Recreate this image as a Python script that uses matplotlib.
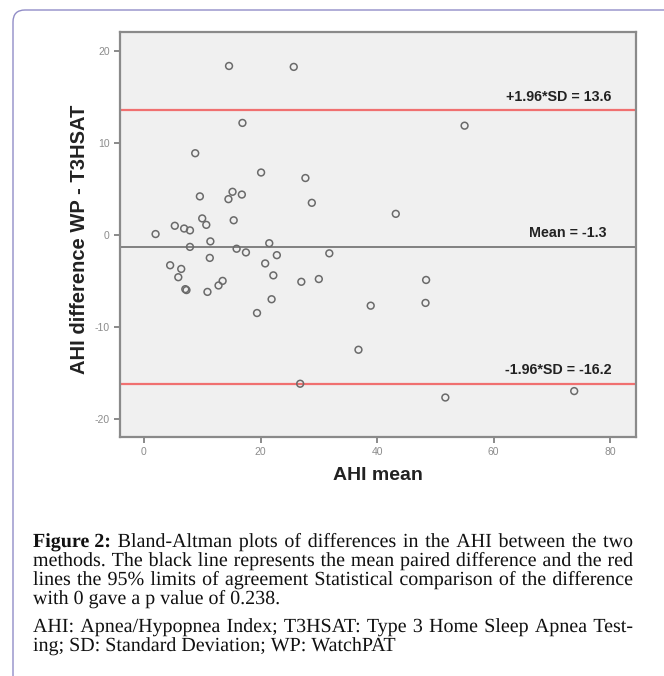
import matplotlib
matplotlib.use("Agg")
import matplotlib.pyplot as plt
from matplotlib.patches import FancyBboxPatch, PathPatch
from matplotlib.transforms import IdentityTransform
from matplotlib.textpath import TextPath, text_to_path
from matplotlib.font_manager import FontProperties

plt.rcParams["axes.unicode_minus"] = False

# Bland-Altman values
ahi_mean = [14.6, 25.7, 16.9, 8.8, 20.1, 27.7, 28.8, 9.6, 15.2, 16.8,
            14.5, 15.4, 10.0, 10.7, 2.0, 5.3, 6.9, 7.9, 11.4, 7.9,
            21.5, 15.9, 17.5, 22.8, 31.8, 4.5, 6.4, 5.9, 7.1, 7.3,
            11.3, 20.8, 22.2, 13.5, 12.8, 10.9, 27.0, 30.0, 21.9, 19.4,
            26.8, 48.4, 48.3, 38.9, 36.8, 51.7, 73.8, 55.0, 43.2]
ahi_diff = [18.4, 18.3, 12.2, 8.9, 6.8, 6.2, 3.5, 4.2, 4.7, 4.4,
            3.9, 1.6, 1.8, 1.1, 0.1, 1.0, 0.7, 0.5, -0.7, -1.3,
            -0.9, -1.5, -1.9, -2.2, -2.0, -3.3, -3.7, -4.6, -5.9, -6.0,
            -2.5, -3.1, -4.4, -5.0, -5.5, -6.2, -5.1, -4.8, -7.0, -8.5,
            -16.2, -4.9, -7.4, -7.7, -12.5, -17.7, -17.0, 11.9, 2.3]
mean_diff = -1.3
upper_loa = 13.6
lower_loa = -16.2

x_ticks = [0, 20, 40, 60, 80]
y_ticks = [-20, -10, 0, 10, 20]

caption_par1 = [
    "Bland-Altman plots of differences in the AHI between the two",
    "methods. The black line represents the mean paired difference and the red",
    "lines the 95% limits of agreement Statistical comparison of the difference",
    "with 0 gave a p value of 0.238.",
]
caption_par2 = [
    "AHI: Apnea/Hypopnea Index; T3HSAT: Type 3 Home Sleep Apnea Test-",
    "ing; SD: Standard Deviation; WP: WatchPAT",
]

W, H = 664, 676
fig = plt.figure(figsize=(W / 100, H / 100), dpi=100)
fig.patch.set_facecolor("white")

# rounded frame around the figure panel
frame = FancyBboxPatch((13, -40), W + 40, H - 10 + 40,
                       boxstyle="round,pad=0,rounding_size=12",
                       transform=IdentityTransform(), fill=False,
                       edgecolor="#918dc7", linewidth=1.0)
fig.patches.append(frame)

ax = fig.add_axes([120 / W, 1 - 437 / H, 516 / W, 405 / H])
ax.set_facecolor("#f0f0f0")

ax.scatter(ahi_mean, ahi_diff, s=24, facecolors="none", edgecolors="#6a6a6a",
           linewidths=1.1, zorder=3)

ax.axhline(upper_loa, color="#f07070", linewidth=1.6, zorder=2)
ax.axhline(lower_loa, color="#f07070", linewidth=1.6, zorder=2)
ax.axhline(mean_diff, color="#808080", linewidth=1.4, zorder=2)

lab_font = dict(family="Liberation Sans", fontsize=10.3, fontweight="bold",
                color="#222222", ha="right", va="center")
ax.text(80.2, upper_loa + 1.45, "+1.96*SD = %.1f" % upper_loa, **lab_font)
ax.text(79.3, mean_diff + 1.5, "Mean = %.1f" % mean_diff, **lab_font)
ax.text(80.2, lower_loa + 1.55, "-1.96*SD = %.1f" % lower_loa, **lab_font)

ax.set_xlim(-4.1, 84.4)
ax.set_ylim(-22.0, 22.1)
ax.set_xticks(x_ticks)
ax.set_yticks(y_ticks)
ax.tick_params(direction="out", length=4, width=1.2, color="#777777",
               labelsize=7.5, labelcolor="#8c8c8c")
for lbl in ax.get_xticklabels() + ax.get_yticklabels():
    lbl.set_family("Liberation Sans")
for sp in ax.spines.values():
    sp.set_color("#8a8a8a")
    sp.set_linewidth(1.6)

ax.set_xlabel("AHI mean", family="Liberation Sans", fontsize=14,
              fontweight="bold", color="#222222")
ax.set_ylabel("AHI difference WP - T3HSAT", family="Liberation Sans",
              fontsize=14.5, fontweight="bold", color="#222222")
ax.xaxis.set_label_coords(0.5, -0.075)
ax.yaxis.set_label_coords(-0.061, 0.487)

# caption: glyph paths placed on a shared baseline, justified per line
cap_px = 20.0  # font size in pixels (14.4 pt at 100 dpi)
fp_reg = FontProperties(family="Liberation Serif", size=cap_px)
fp_bold = FontProperties(family="Liberation Serif", weight="bold", size=cap_px)
left_px, right_px = 33, 633


def word_width(s, fp):
    w, _, _ = text_to_path.get_text_width_height_descent(s, fp, ismath=False)
    return w


space_w = word_width("a b", fp_reg) - word_width("ab", fp_reg)


def put_line(words, y_px, justify, first_bold=None):
    base = H - y_px
    items = []
    if first_bold:
        items.append((first_bold, fp_bold))
    items += [(w, fp_reg) for w in words]
    widths = [word_width(s, fp) for s, fp in items]
    if justify and len(items) > 1:
        gap = (right_px - left_px - sum(widths)) / (len(items) - 1)
    else:
        gap = space_w
    x = left_px
    for (s, fp), w in zip(items, widths):
        tp = TextPath((x, base), s, prop=fp)
        fig.patches.append(PathPatch(tp, transform=IdentityTransform(),
                                     facecolor="#111111", edgecolor="none"))
        x += w + gap


line_y = [547, 566, 585, 604]
for i, line in enumerate(caption_par1):
    put_line(line.split(" "), line_y[i], justify=(i < 3),
             first_bold="Figure 2:" if i == 0 else None)
line_y2 = [632, 651]
for i, line in enumerate(caption_par2):
    put_line(line.split(" "), line_y2[i], justify=(i == 0))

fig.savefig("out.png", dpi=100)
